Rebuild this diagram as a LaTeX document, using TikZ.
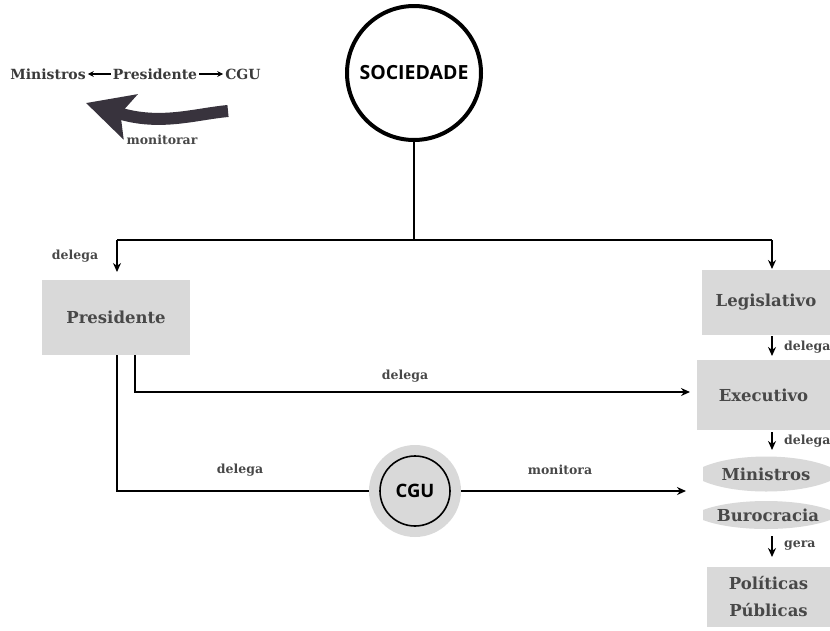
\documentclass[tikz,border=0pt]{standalone}
\usepackage{fontspec}
\setmainfont{DejaVu Serif}
\newfontfamily\sansb{Open Sans}
\usetikzlibrary{arrows.meta}
\definecolor{boxgray}{HTML}{D9D9D9}
\definecolor{txt}{HTML}{484848}
\definecolor{brush}{HTML}{38333D}
\begin{document}
\begin{tikzpicture}[x=1pt,y=-1pt,
  box/.style={fill=boxgray, inner sep=0pt, text=txt, font=\fontsize{16.5}{20}\selectfont\bfseries},
  btxt/.style={inner sep=0pt, text=txt, font=\fontsize{16.5}{20}\selectfont\bfseries},
  lbl/.style={text=txt, inner sep=0pt, font=\fontsize{12.5}{14}\selectfont\bfseries},
  top/.style={text=txt!80!black, inner sep=0pt, font=\fontsize{14}{17}\selectfont\bfseries},
  conn/.style={line width=1.6pt, draw=black},
  arr/.style={conn,-{Stealth[length=9pt,width=8pt]}}]
\useasboundingbox (0,0) rectangle (830,630);
\fill[white] (0,0) rectangle (830,630);

% top-left legend
\node[top] (lm) at (48,74) {Ministros};
\node[top] (lp) at (155,74) {Presidente};
\node[top] (lc) at (243,74) {CGU};
\draw[line width=1.5pt,-{Stealth[length=6pt,width=6pt]}] (lp.west) ++(-2pt,0) -- ([xshift=2pt]lm.east);
\draw[line width=1.5pt,-{Stealth[length=6pt,width=6pt]}] (lp.east) ++(2pt,0) -- ([xshift=-2pt]lc.west);
\draw[brush, line width=12pt, -{Stealth[length=46pt,width=46pt,inset=10pt]}] (228,111) .. controls (195,114) and (160,126) .. (86,103);
\node[lbl] (mon) at (162,140) {monitorar};

% society
\node[circle, draw, line width=4pt, minimum size=134pt, inner sep=0pt,
      font=\sansb\bfseries\fontsize{19.5}{22}\selectfont] (soc) at (414,73) {SOCIEDADE};

% boxes
\node[box, minimum width=148pt, minimum height=75pt] (pres) at (116,317.5) {Presidente};
\node[box, minimum width=128pt, minimum height=65pt] (leg) at (766,302.5) {Legislativo};
\node[box, minimum width=133pt, minimum height=70pt] (exe) at (763.5,395) {Executivo};
\node[box, minimum width=123pt, minimum height=60pt, align=center, font=\fontsize{16.5}{27}\selectfont\bfseries] (pol) at (768.5,597) {Políticas\\Públicas};

\fill[boxgray] (703,467) .. controls (735,453) and (797,453) .. (830,467) -- (830,481) .. controls (797,495) and (735,495) .. (703,481) -- cycle;
\node[btxt] (min) at (766,474) {Ministros};
\fill[boxgray] (703,510) .. controls (735,498) and (797,498) .. (830,510) -- (830,520) .. controls (797,532) and (735,532) .. (703,520) -- cycle;
\node[btxt] (bur) at (768,515) {Burocracia};

% CGU
\node[circle, fill=boxgray, minimum size=92pt, inner sep=0pt] (cguo) at (415,491) {};
\node[circle, draw, line width=1.6pt, fill=boxgray, minimum size=70pt, inner sep=0pt,
      font=\sansb\bfseries\fontsize{18.5}{21}\selectfont] (cgu) at (415,491) {CGU};

% connectors
\coordinate (jl) at (117,240);
\coordinate (jr) at (772,240);
\coordinate (jm) at (soc.south |- jl);
\draw[conn] (soc.south) -- (jm);
\draw[conn] (jl) -- (jr);
\draw[arr] (jl) -- (117,272);
\draw[arr] (jr) -- (772,269);
\node[lbl] (d0) at (75,256) {delega};

\draw[arr] (135,355) |- (690,392);
\node[lbl] (d1) at (405,376) {delega};

\draw[conn] (117,355) |- (cguo.west);
\draw[arr] (cguo.east) -- (686,491);
\node[lbl] (d2) at (240,470) {delega};
\node[lbl] (m2) at (560,470) {monitora};

\draw[arr] (772,336) -- (772,356);
\node[lbl, anchor=west] (d3) at (784,347) {delega};
\draw[arr] (772,432) -- (772,450);
\node[lbl, anchor=west] (d4) at (784,441) {delega};
\draw[arr] (772,536) -- (772,557);
\node[lbl, anchor=west] (g) at (784,546) {gera};
\end{tikzpicture}
\end{document}
